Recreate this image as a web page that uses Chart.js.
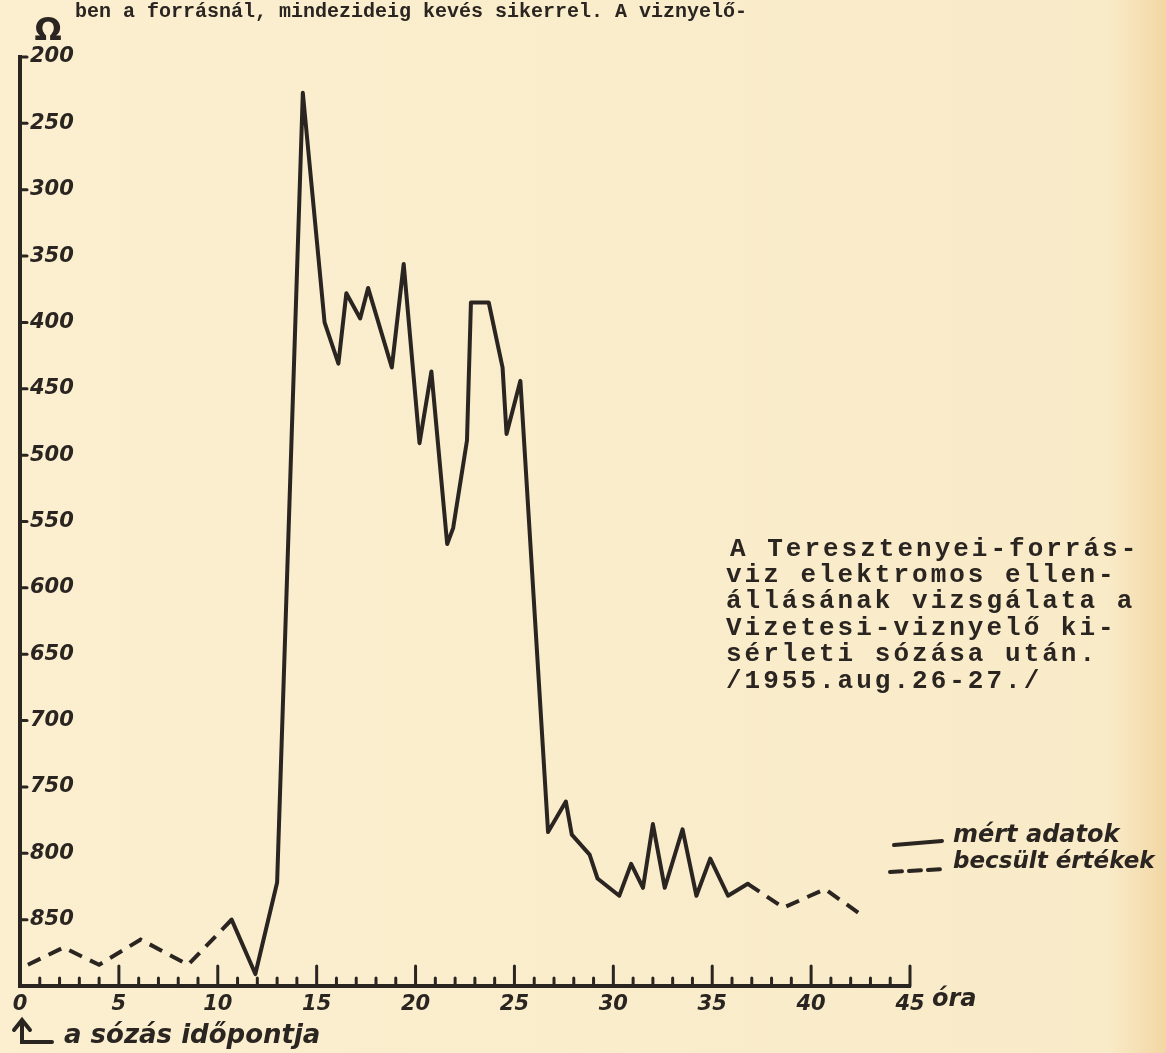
<!DOCTYPE html>
<html>
<head>
<meta charset="utf-8">
<script src="https://cdn.jsdelivr.net/npm/chart.js@4.4.1/dist/chart.umd.min.js"></script>
<style>
  html, body { margin: 0; padding: 0; background: #faedcc; }
  canvas { display: block; }
</style>
</head>
<body>
<canvas id="ellenallas" width="1166" height="1053"></canvas>
<script>
// mért adatok (óra, ohm)
var measuredHours = [10.7, 11.9, 13.0, 14.3, 15.4, 16.1, 16.5, 17.2, 17.6, 18.8, 19.4, 20.2, 20.8, 21.6, 21.9, 22.6, 22.8, 23.7, 24.4, 24.6, 25.3,
                     26.7, 27.6, 27.9, 28.8, 29.2, 30.3, 30.9, 31.5, 32.0, 32.6, 33.5, 34.2, 34.9, 35.8, 36.8];
var measuredOhm   = [850, 891, 822, 227, 400, 431, 378, 397, 374, 434, 356, 491, 437, 567, 555, 489, 385, 385, 434, 484, 444,
                     784, 761, 786, 801, 819, 832, 808, 826, 778, 826, 782, 832, 804, 832, 823];

// becsült értékek - sózás előtt és a mérés vége után
var estEarlyHours = [0.4, 2.2, 4.0, 6.1, 8.5, 10.7];
var estEarlyOhm   = [884, 871, 884, 865, 884, 850];
var estLateHours  = [36.8, 38.6, 40.7, 42.6];
var estLateOhm    = [823, 841, 827, 847];

var hourTicks = [0, 5, 10, 15, 20, 25, 30, 35, 40, 45];
var ohmTicks  = [200, 250, 300, 350, 400, 450, 500, 550, 600, 650, 700, 750, 800, 850];

var ink = '#2b2521';
var hand = "'DejaVu Sans', sans-serif";
var typewriter = "'Liberation Mono', monospace";

function pts(xs, ys) {
    return xs.map(function (x, i) { return { x: x, y: ys[i] }; });
}

var paper = {
    id: 'paper',
    beforeDraw: function (chart) {
        var c = chart.ctx;
        var g = c.createLinearGradient(0, 0, chart.width, 0);
        g.addColorStop(0, '#fbefd0');
        g.addColorStop(0.95, '#f9ebc8');
        g.addColorStop(1, '#f2d7a4');
        c.save();
        c.fillStyle = g;
        c.fillRect(0, 0, chart.width, chart.height);
        c.restore();
    }
};

var decor = {
    id: 'decor',
    afterDraw: function (chart) {
        var c = chart.ctx;
        var xs = chart.scales.x, ys = chart.scales.y;
        var a = chart.chartArea;
        c.save();
        c.strokeStyle = ink;
        c.fillStyle = ink;
        c.lineCap = 'round';

        // y tick dashes
        c.lineWidth = 3;
        ohmTicks.forEach(function (v) {
            var y = ys.getPixelForValue(v);
            c.beginPath();
            c.moveTo(a.left, y);
            c.lineTo(a.left + 7, y);
            c.stroke();
        });

        // x hour ticks, pointing up
        for (var h = 1; h <= 45; h++) {
            var x = xs.getPixelForValue(h);
            var len = (h % 5 === 0) ? 20 : 8;
            c.beginPath();
            c.moveTo(x, a.bottom);
            c.lineTo(x, a.bottom - len);
            c.stroke();
        }

        // ohm sign
        c.font = "bold 32px " + hand;
        c.textAlign = 'center';
        c.textBaseline = 'middle';
        c.fillText('Ω', 48, 32);

        // óra
        c.font = "italic bold 24px " + hand;
        c.textAlign = 'left';
        c.fillText('óra', 932, 1000);

        // a sózás időpontja with the arrow
        c.lineWidth = 4;
        c.beginPath();
        c.moveTo(22, 1022);
        c.lineTo(22, 1042);
        c.lineTo(52, 1042);
        c.stroke();
        c.beginPath();
        c.moveTo(14, 1030);
        c.lineTo(22, 1020);
        c.lineTo(30, 1030);
        c.stroke();
        c.font = "italic bold 26px " + hand;
        c.fillText('a sózás időpontja', 64, 1036);

        // legend
        var ds = chart.data.datasets;
        c.lineWidth = 4;
        c.beginPath();
        c.moveTo(894, 845);
        c.lineTo(942, 841);
        c.stroke();
        c.setLineDash([12, 7]);
        c.beginPath();
        c.moveTo(890, 872);
        c.lineTo(945, 869);
        c.stroke();
        c.setLineDash([]);
        c.font = "italic bold 24px " + hand;
        c.fillText(ds[0].label, 953, 836);
        c.font = "italic bold 23px " + hand;
        c.fillText(ds[1].label, 953, 862);

        // typed text of the page
        c.font = "bold 20px " + typewriter;
        c.textBaseline = 'middle';
        c.letterSpacing = '0px';
        c.fillText('ben a forrásnál, mindezideig kevés sikerrel. A viznyelő-', 75, 12);

        var note = ['A Teresztenyei-forrás-', 'viz elektromos ellen-', 'állásának vizsgálata a',
                    'Vizetesi-viznyelő ki-', 'sérleti sózása után.', '/1955.aug.26-27./'];
        c.font = "bold 26px " + typewriter;
        c.letterSpacing = '3px';
        note.forEach(function (t, i) {
            c.fillText(t, i === 0 ? 730 : 726, 549 + i * 26.4);
        });
        c.restore();
    }
};

var data = {
    datasets: [{
        label: 'mért adatok',
        data: pts(measuredHours, measuredOhm),
        borderColor: ink,
        borderWidth: 4,
        pointRadius: 0,
        borderJoinStyle: 'round',
        borderCapStyle: 'round',
        tension: 0
    }, {
        label: 'becsült értékek',
        data: pts(estEarlyHours, estEarlyOhm),
        borderColor: ink,
        borderWidth: 4,
        borderDash: [14, 9],
        pointRadius: 0,
        tension: 0
    }, {
        label: 'becsült értékek',
        data: pts(estLateHours, estLateOhm),
        borderColor: ink,
        borderWidth: 4,
        borderDash: [14, 9],
        pointRadius: 0,
        tension: 0
    }]
};

var tickFont = { family: hand, size: 21, style: 'italic', weight: 'bold' };

var chart = new Chart(document.getElementById('ellenallas'), {
    type: 'line',
    data: data,
    plugins: [paper, decor],
    options: {
        responsive: false,
        animation: false,
        devicePixelRatio: 1,
        clip: false,
        layout: { padding: { left: 20, right: 256, top: 57, bottom: 27 } },
        plugins: {
            legend: { display: false },
            tooltip: { enabled: false }
        },
        scales: {
            x: {
                type: 'linear',
                min: 0,
                max: 45,
                grid: { display: false, drawTicks: false },
                border: { display: true, width: 4, color: ink },
                ticks: {
                    stepSize: 5,
                    autoSkip: false,
                    maxRotation: 0,
                    padding: 6,
                    color: ink,
                    font: tickFont,
                    callback: function (v) { return hourTicks.indexOf(v) >= 0 ? String(v) : ''; }
                },
                afterFit: function (s) { s.height = 40; }
            },
            y: {
                type: 'linear',
                reverse: true,
                min: 200,
                max: 900,
                grid: { display: false, drawTicks: false },
                border: { display: true, width: 4, color: ink },
                ticks: {
                    mirror: true,
                    stepSize: 50,
                    autoSkip: false,
                    padding: 10,
                    color: ink,
                    font: tickFont,
                    callback: function (v) { return ohmTicks.indexOf(v) >= 0 ? String(v) : ''; }
                },
                afterFit: function (s) { s.width = 0; }
            }
        }
    }
});
</script>
</body>
</html>
